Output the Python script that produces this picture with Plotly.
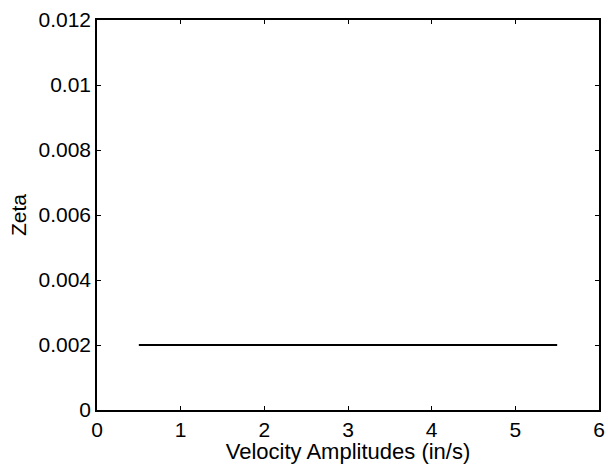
import plotly.graph_objects as go

velocity = [0.5, 5.5]
zeta = [0.002, 0.002]
x_ticks = [0, 1, 2, 3, 4, 5, 6]
y_ticks = [0, 0.002, 0.004, 0.006, 0.008, 0.01, 0.012]
y_tick_text = ["0", "0.002", "0.004", "0.006", "0.008", "0.01", "0.012"]

fig = go.Figure()
fig.add_trace(go.Scatter(x=velocity, y=zeta, mode="lines",
                         line=dict(color="black", width=2), showlegend=False))

tick_font = dict(family="Liberation Sans, Arial, sans-serif", size=21, color="black")
title_font = dict(family="Liberation Sans, Arial, sans-serif", size=22, color="black")
fig.update_layout(
    template="none",
    width=608, height=464,
    margin=dict(l=97, r=9, t=20, b=54),
    paper_bgcolor="white", plot_bgcolor="white",
    font=tick_font,
)
fig.update_xaxes(range=[0, 6], tickvals=x_ticks, ticks="inside", ticklen=4,
                 tickcolor="black", showline=True, linecolor="black", linewidth=1.5,
                 mirror="ticks", showgrid=False, zeroline=False, automargin=False,
                 title=dict(text="Velocity Amplitudes (in/s)", standoff=0, font=title_font),
                 tickfont=tick_font)
fig.update_yaxes(range=[0, 0.012], tickvals=y_ticks, ticktext=y_tick_text,
                 ticks="inside", ticklen=4, tickcolor="black", showline=True,
                 linecolor="black", linewidth=1.5, mirror="ticks", showgrid=False,
                 zeroline=False, automargin=False,
                 title=dict(text="Zeta", standoff=6, font=dict(title_font, size=21)),
                 tickfont=tick_font)

fig.write_html("out.html")
